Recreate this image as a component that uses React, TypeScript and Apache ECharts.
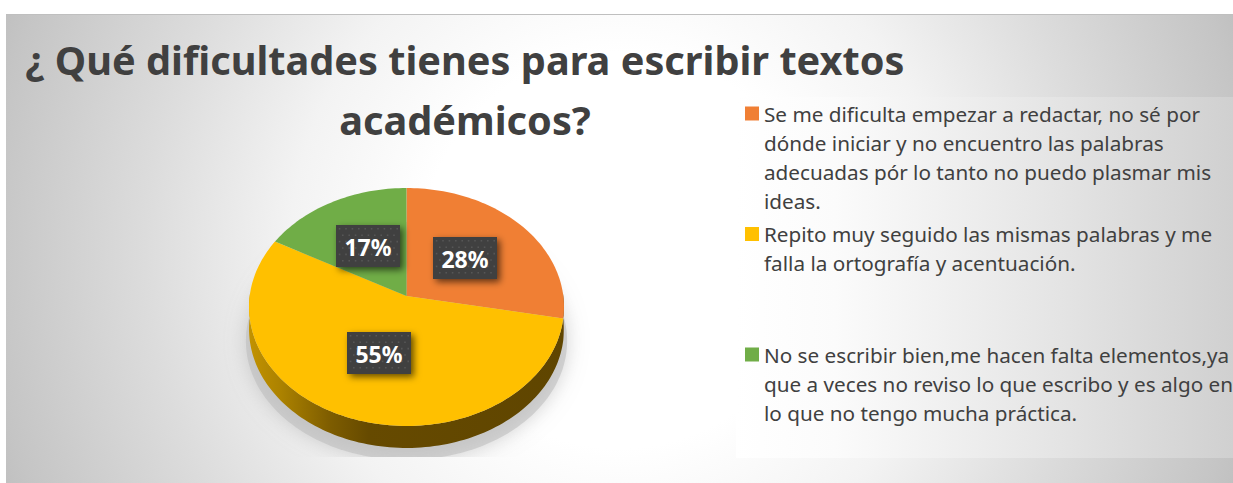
import React, { useEffect, useRef } from "react";
import * as echarts from "echarts";

const titleText = "¿ Qué dificultades tienes para escribir textos\nacadémicos?";
const sliceValues = [28, 55, 17];
const sliceColors = ["#F07F34", "#FFC000", "#70AD47"];
const sliceLabels = ["28%", "55%", "17%"];
const legendLines = [
  [
    "Se me dificulta empezar a redactar, no sé por",
    "dónde iniciar y no encuentro las palabras",
    "adecuadas pór lo tanto no puedo plasmar mis",
    "ideas.",
  ],
  ["Repito muy seguido las mismas palabras y me", "falla la ortografía y acentuación."],
  [
    "No se escribir bien,me hacen falta elementos,ya",
    "que a veces no reviso lo que escribo y es algo en",
    "lo que no tengo mucha práctica.",
  ],
];
const categories = legendLines.map((l) => l.join(" "));
const legendFirstLineY = [113.5, 234, 354.5];

const FONT = '"Noto Sans", "Open Sans", sans-serif';
const LINE = 29;

// Perspective of the tilted disc: unit circle -> screen.
const P = { cx: 406.5, apexY: 296, A: 90.6, B: 156.8, k: -0.0924, depth: 22 };
const project = (deg: number, f: number): [number, number] => {
  const a = (deg * Math.PI) / 180;
  const u = Math.sin(a) * f;
  const v = -Math.cos(a) * f;
  const d = 1 + P.k * v;
  return [P.cx + (P.B * u) / d, (P.A * v + P.apexY) / d];
};
const arc = (s: number, e: number, f = 1) => {
  const pts: [number, number][] = [];
  const n = Math.max(2, Math.ceil((e - s) / 1.5));
  for (let i = 0; i <= n; i++) pts.push(project(s + ((e - s) * i) / n, f));
  return pts;
};

const total = sliceValues.reduce((a, b) => a + b, 0);
const startDeg = (i: number) =>
  (sliceValues.slice(0, i).reduce((a, b) => a + b, 0) / total) * 360;

const yellowWall = new echarts.graphic.LinearGradient(
  249, 0, 564, 0,
  [
    { offset: 0, color: "#C29200" },
    { offset: 0.1, color: "#AC8200" },
    { offset: 0.26, color: "#7D5C00" },
    { offset: 0.38, color: "#664A00" },
    { offset: 1, color: "#5F4500" },
  ],
  true
);
const wallFills = ["#6E4A10", yellowWall, "#46682B"];

const labelBox = (i: number, value: number) => {
  const mid = startDeg(i) + (value / total) * 180;
  const [lx, ly] = project(mid, 0.5);
  const W = 64;
  const H = 42;
  const x0 = Math.round(lx - W / 2);
  const y0 = Math.round(ly - H / 2 - 1);
  const dots: any[] = [];
  for (let r = 0, y = 3; y < H - 1; r++, y += 6.4) {
    for (let x = r % 2 ? 6 : 2.8; x < W - 1; x += 6.4) {
      dots.push({
        type: "rect",
        shape: { x: x0 + x, y: y0 + y, width: 1.6, height: 1.6 },
        style: { fill: "#565656" },
        silent: true,
      });
    }
  }
  return [
    {
      type: "rect",
      shape: { x: x0, y: y0, width: W, height: H },
      style: {
        fill: "#404040",
        shadowBlur: 7,
        shadowOffsetX: 3,
        shadowOffsetY: 3,
        shadowColor: "rgba(0,0,0,0.6)",
      },
    },
    ...dots,
    {
      type: "text",
      style: {
        text: sliceLabels[i],
        x: x0 + W / 2,
        y: y0 + H / 2 + 1,
        align: "center",
        verticalAlign: "middle",
        fontFamily: FONT,
        fontWeight: "bold",
        fontSize: 23,
        fill: "#FFFFFF",
      },
    },
  ];
};

const sliceSeries = (i: number) => ({
  type: "custom",
  name: categories[i],
  coordinateSystem: "none",
  data: [[sliceValues[i]]],
  itemStyle: { color: sliceColors[i] },
  silent: true,
  renderItem: (_p: any, api: any) => {
    const value = api.value(0);
    const s = startDeg(i);
    const e = s + (value / total) * 360;
    const children: any[] = [];
    const ws = Math.max(s, 88);
    const we = Math.min(e, 272);
    if (we > ws) {
      const front = arc(ws, we);
      const back = front.map(([x, y]) => [x, y + P.depth]).reverse();
      children.push({
        type: "polygon",
        shape: { points: [...front, ...back] },
        style: { fill: wallFills[i] },
      });
    }
    children.push({
      type: "polygon",
      shape: { points: [[P.cx, P.apexY], ...arc(s, e)] },
      style: { fill: sliceColors[i] },
    });
    children.push(...labelBox(i, value));
    return { type: "group", children };
  },
});

const shadowSeries = {
  type: "custom",
  name: "sombra",
  coordinateSystem: "none",
  data: [[1]],
  silent: true,
  renderItem: () => ({
    type: "polygon",
    shape: {
      points: arc(0, 360).map(([x, y]) => [P.cx + (x - P.cx) * 1.02, y + 34]),
    },
    style: {
      fill: "rgba(190,190,190,0.6)",
      shadowBlur: 20,
      shadowColor: "rgba(170,170,170,0.9)",
    },
    clipPath: { type: "rect", shape: { x: 0, y: 0, width: 1233, height: 457 } },
  }),
};

const legends = legendLines.map((lines, i) => {
  const n = lines.length;
  const h = (2 * n - 1) * LINE;
  return {
    data: [categories[i]],
    orient: "vertical",
    left: 745,
    top: legendFirstLineY[i] - h / 2,
    padding: 0,
    icon: "rect",
    itemWidth: 14,
    itemHeight: 14,
    itemGap: 0,
    selectedMode: false,
    // Blank leading lines keep the marker level with the first text line.
    formatter: () => "\n".repeat(n - 1) + lines.join("\n"),
    textStyle: {
      fontFamily: FONT,
      fontSize: 20.7,
      lineHeight: LINE,
      color: "#404040",
    },
  };
});

const option: any = {
  animation: false,
  backgroundColor: "#FFFFFF",
  title: {
    text: titleText,
    left: 465,
    top: 30,
    textAlign: "center",
    padding: 0,
    textStyle: {
      fontFamily: FONT,
      fontWeight: "bold",
      fontSize: 39.7,
      lineHeight: 60,
      color: "#404040",
    },
  },
  legend: legends,
  graphic: [
    {
      type: "rect",
      shape: { x: 6, y: 14, width: 1227, height: 469 },
      style: {
        fill: new echarts.graphic.RadialGradient(
          620, 250, 660,
          [
            { offset: 0, color: "#FFFFFF" },
            { offset: 0.3, color: "#FFFFFF" },
            { offset: 0.5, color: "#F3F3F3" },
            { offset: 0.72, color: "#DCDCDC" },
            { offset: 0.96, color: "#C5C5C5" },
            { offset: 1, color: "#C0C0C0" },
          ],
          true
        ),
      },
    },
    {
      type: "line",
      shape: { x1: 6, y1: 14.5, x2: 1233, y2: 14.5 },
      style: { stroke: "#BFBFBF", lineWidth: 1 },
    },
    {
      type: "rect",
      shape: { x: 736, y: 97, width: 497, height: 361 },
      style: {
        fill: new echarts.graphic.LinearGradient(0, 0, 1, 0, [
          { offset: 0, color: "#FFFFFF" },
          { offset: 0.2, color: "#FBFBFB" },
          { offset: 0.6, color: "#E7E7E7" },
          { offset: 1, color: "#D0D0D0" },
        ]),
      },
    },
  ],
  series: [shadowSeries, ...sliceValues.map((_, i) => sliceSeries(i))],
};

export default function App() {
  const ref = useRef<HTMLDivElement>(null);
  useEffect(() => {
    if (!ref.current) return;
    const chart = echarts.init(ref.current, undefined, { renderer: "svg" });
    chart.setOption(option);
    return () => chart.dispose();
  }, []);
  return (
    <div
      ref={ref}
      style={{ position: "absolute", left: 0, top: 0, width: 1233, height: 483 }}
    />
  );
}
